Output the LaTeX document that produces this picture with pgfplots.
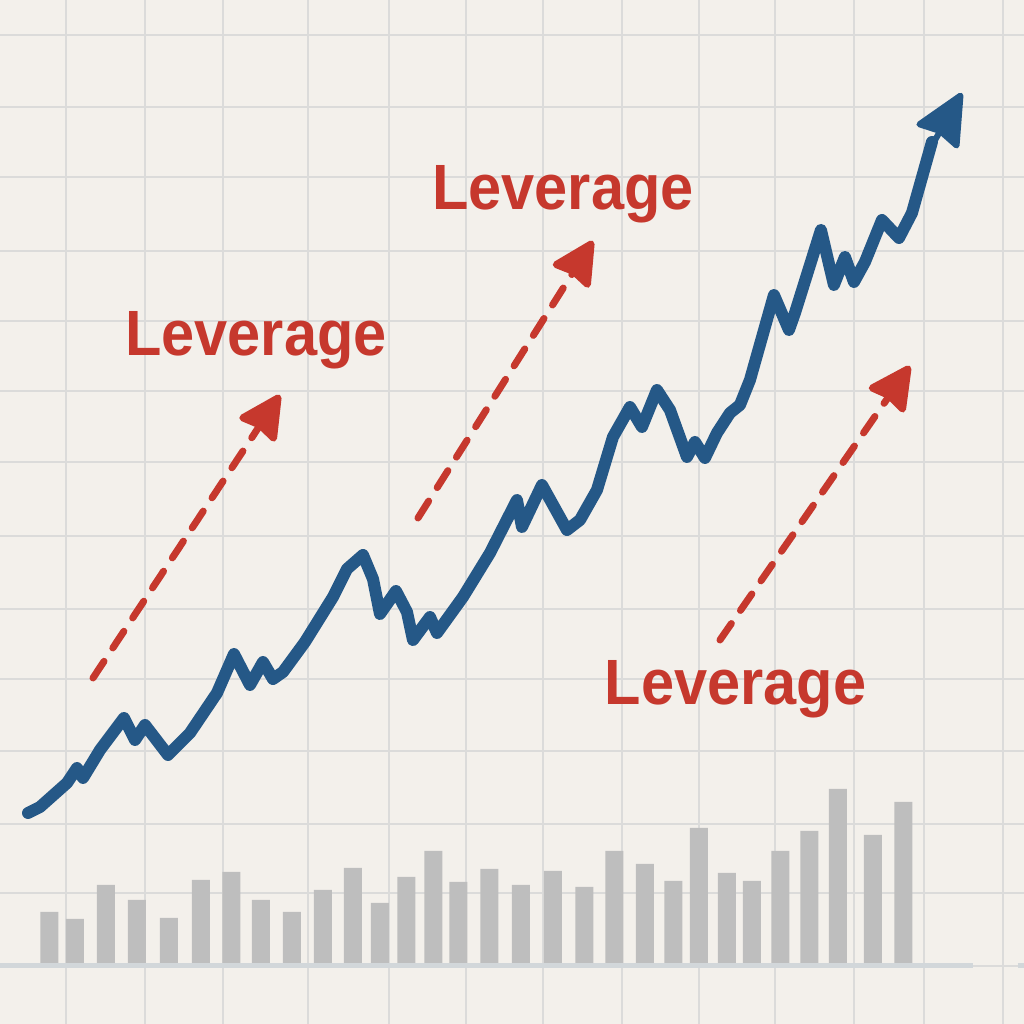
\documentclass[border=0pt]{standalone}
\usepackage{pgfplots}
\pgfplotsset{compat=1.18}
\usepackage{graphicx}
\usepackage{fontspec}
\setmainfont{Liberation Sans}
\usetikzlibrary{arrows.meta}

\definecolor{paper}{RGB}{243,240,235}
\definecolor{gridgrey}{RGB}{219,219,218}
\definecolor{barcol}{RGB}{190,190,190}
\definecolor{basecol}{RGB}{210,215,218}
\definecolor{lineblue}{RGB}{37,88,135}
\definecolor{arrred}{RGB}{198,56,45}

% one unit = one pixel of the 1024x1024 picture; y measured up from the bar baseline
\pgfplotstableread{
x     h
49.5  54
75    47
106   81
137   66
169   48
201   86
231.5 94
261   66
292   54
323   76
353   98
380   63
406.5 89
433.5 115
458.5 84
489.5 97
521   81
553   95
584.5 79
614.5 115
645   102
673.5 85
699   138
727   93
752   85
780.5 115
809.5 135
838   177
873   131
903.5 164
}\volume

\pgfplotstableread{
x   y
28  153
40  159
67  183
77  198
83  188
100 216
124 248
135 226
145 241
168 211
190 233
217 273
234 312
250 281
263 304
273 287
283 294
305 324
333 369
347 397
363 411
373 387
380 352
396 375
407 354
413 326
430 349
437 333
463 369
490 413
517 466
522 439
542 481
567 436
580 446
597 476
613 529
630 559
642 539
657 576
670 556
687 509
695 524
705 508
717 533
730 553
740 561
750 586
774 671
789 636
795 653
821 736
834 681
845 709
854 684
865 704
882 746
899 728
912 753
932 824
}\price

\newcommand{\lev}{{\fontsize{64}{70}\selectfont\bfseries\scalebox{0.93}[1]{Leverage}}}

\begin{document}
\begin{tikzpicture}
\begin{axis}[
    scale only axis,
    width=1024pt, height=1024pt,
    xmin=0, xmax=1024, ymin=-58, ymax=966,
    axis background/.style={fill=paper},
    axis line style={draw=none},
    major tick length=0pt,
    xtick={66,145,223,308,389,466,543,622,699,775,854,924,1003},
    ytick={0,73,142,215,287,357,430,504,575,645,715,789,859,931},
    xticklabels={}, yticklabels={},
    grid=major,
    grid style={gridgrey, line width=2pt},
]
% volume bars
\addplot[ybar, bar width=18, fill=barcol, draw=none] table[x=x, y=h] {\volume};
% baseline
\addplot[basecol, line width=5pt] coordinates {(0,0) (973,0)};
\addplot[basecol, line width=5pt] coordinates {(1018,0) (1024,0)};

% red dashed arrows
\addplot[arrred, line width=7pt, line cap=round, dash pattern=on 20pt off 16pt,
    -{Stealth[length=48pt, width=48pt, inset=4pt, round]}]
    coordinates {(93,288) (280,571)};
\addplot[arrred, line width=7pt, line cap=round, dash pattern=on 20pt off 16pt,
    -{Stealth[length=48pt, width=48pt, inset=4pt, round]}]
    coordinates {(418,448) (593,725)};
\addplot[arrred, line width=7pt, line cap=round, dash pattern=on 20pt off 16pt,
    -{Stealth[length=48pt, width=48pt, inset=4pt, round]}]
    coordinates {(720,326) (910,600)};

% price line and its head
\addplot[lineblue, line width=12pt, line join=round, line cap=round] table[x=x, y=y] {\price};
\addplot[lineblue, line width=6pt, -{Stealth[length=56pt, width=52pt, inset=5pt, round]}]
    coordinates {(934,824) (962,873)};

\node[arrred, anchor=base] at (axis cs:256,610) {\lev};
\node[arrred, anchor=base] at (axis cs:563,756) {\lev};
\node[arrred, anchor=base] at (axis cs:735.5,261) {\lev};
\end{axis}
\pgfresetboundingbox
\path (current axis.south west) rectangle (current axis.north east);
\end{tikzpicture}
\end{document}
